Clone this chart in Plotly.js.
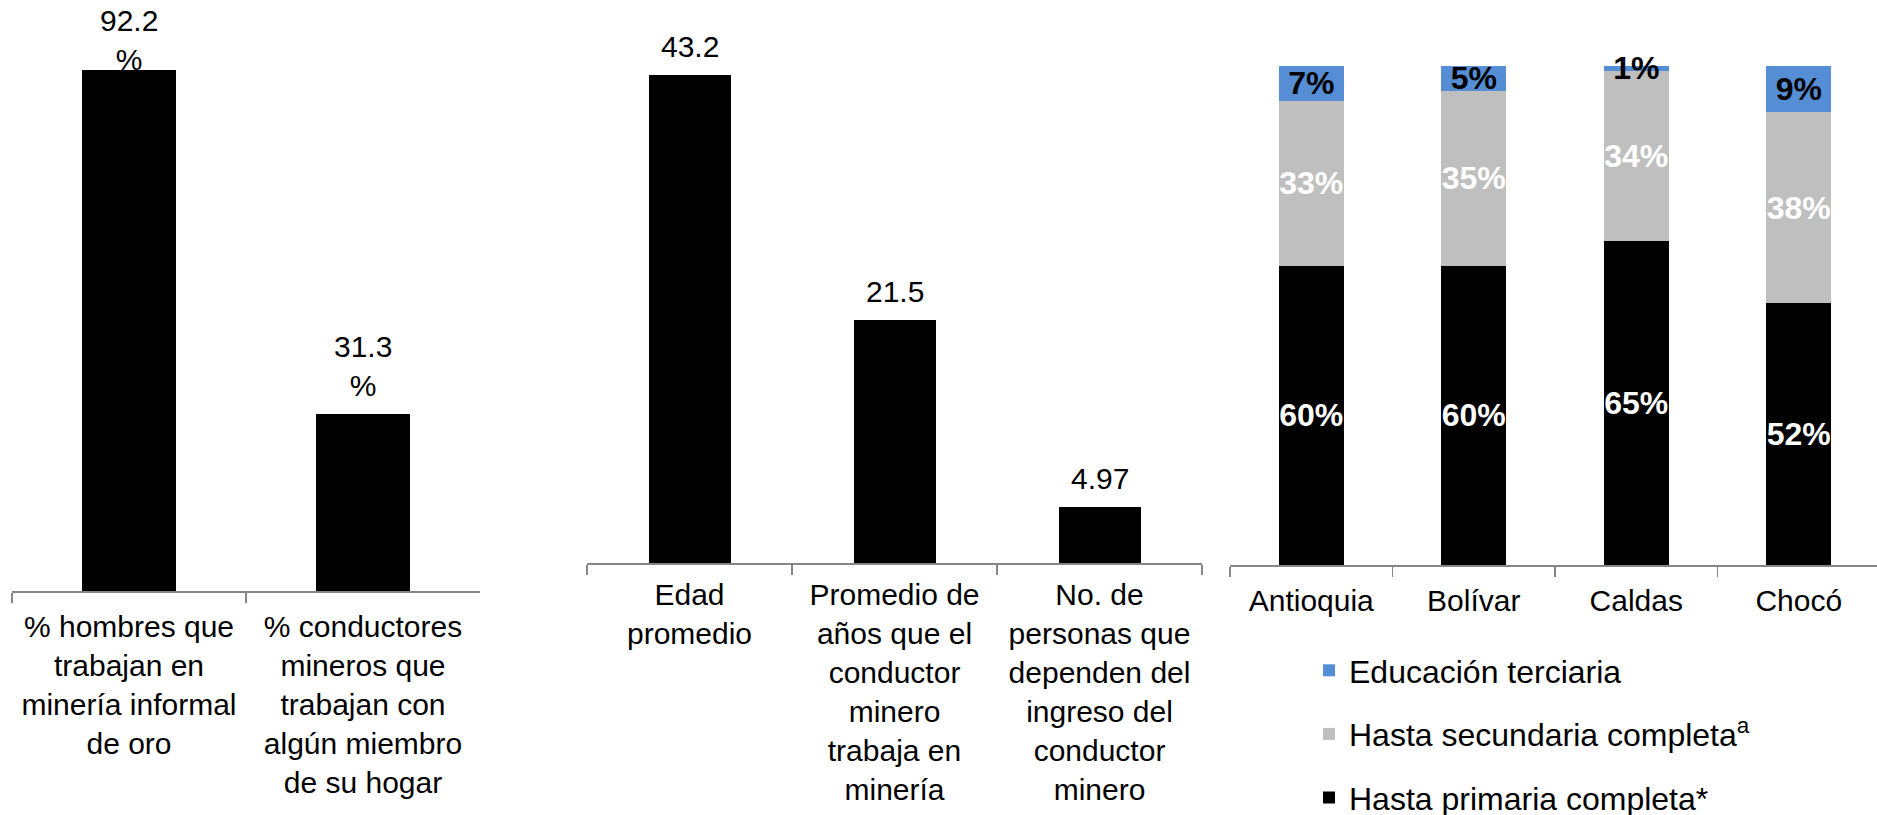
<!DOCTYPE html>
<html>
<head>
<meta charset="utf-8">
<script src="https://cdn.plot.ly/plotly-3.0.1.min.js"></script>
<style>html,body{margin:0;padding:0;background:#fff;}#chart{width:1877px;height:815px;}</style>
</head>
<body>
<div id="chart"></div>
<script>
// ---- data ----
var cats1 = ["% hombres que<br>trabajan en<br>minería informal<br>de oro", "% conductores<br>mineros que<br>trabajan con<br>algún miembro<br>de su hogar"];
var vals1 = [92.2, 31.3];

var cats2 = ["Edad<br>promedio", "Promedio de<br>años que el<br>conductor<br>minero<br>trabaja en<br>minería", "No. de<br>personas que<br>dependen del<br>ingreso del<br>conductor<br>minero"];
var vals2 = [43.2, 21.5, 4.97];

var regions = ["Antioquia", "Bolívar", "Caldas", "Chocó"];
var primaria = [60, 60, 65, 52.4];
var secundaria = [33, 35, 34, 38.4];
var terciaria = [7, 5, 1, 9.2];
var seriesNames = ["Hasta primaria completa*", "Hasta secundaria completa<sup>a</sup>", "Educación terciaria"];

// ---- style ----
var W = 1877, H = 815;
var FONT = "Liberation Sans, Arial, sans-serif";
var FS = 30;
var AXC = "#868686";
var BLUE = "#558ED5", GRAY = "#BFBFBF", BLACK = "#000000";

function px(x){ return x / W; }
function py(y){ return (H - y) / H; }

// axis geometry (pixels from the top of the figure)
var AX1 = 591, AX2 = 563, AX3 = 565;
var Y1MAX = 104.6, Y2MAX = 49.84, Y3MAX = 113.2;

var traces = [
  {type:"bar", x:cats1, y:vals1, xaxis:"x", yaxis:"y", marker:{color:BLACK},
   showlegend:false, hoverinfo:"skip"},
  {type:"bar", x:cats2, y:vals2, xaxis:"x2", yaxis:"y2", marker:{color:BLACK},
   showlegend:false, hoverinfo:"skip"},
  {type:"bar", x:regions, y:primaria, xaxis:"x3", yaxis:"y3", name:seriesNames[0], legendgroup:"g1", legendrank:3,
   marker:{color:BLACK}, texttemplate:"%{y:.0f}%", textposition:"inside", insidetextanchor:"middle",
   textangle:0, constraintext:"none", cliponaxis:false,
   insidetextfont:{family:FONT, size:32, color:"#fff", weight:"bold"}, hoverinfo:"skip"},
  {type:"bar", x:regions, y:secundaria, xaxis:"x3", yaxis:"y3", name:seriesNames[1], legendgroup:"g2", legendrank:2,
   marker:{color:GRAY}, texttemplate:"%{y:.0f}%", textposition:"inside", insidetextanchor:"middle",
   textangle:0, constraintext:"none", cliponaxis:false,
   insidetextfont:{family:FONT, size:32, color:"#fff", weight:"bold"}, hoverinfo:"skip"},
  {type:"bar", x:regions, y:terciaria, xaxis:"x3", yaxis:"y3", name:seriesNames[2], legendgroup:"g3", legendrank:1,
   marker:{color:BLUE}, texttemplate:"%{y:.0f}%", textposition:"inside", insidetextanchor:"middle",
   textangle:0, constraintext:"none", cliponaxis:false,
   insidetextfont:{family:FONT, size:32, color:"#000", weight:"bold"}, hoverinfo:"skip"}
];

// value labels, anchored to the bars through the axes; a label that would
// run past the top of its plot area is held inside it (as the original does)
var LINE = FS * 1.3, SHIFT = 10;
function valueLabels(cats, vals, xref, yref, axisPx, ymax, fmt){
  var pxPerUnit = axisPx / ymax;
  return cats.map(function(c, i){
    var txt = fmt(vals[i]);
    var nLines = txt.split("<br>").length;
    var needed = vals[i] * pxPerUnit + SHIFT + nLines * LINE + 2;
    var a = {xref:xref, yref:yref, x:c, text:txt, showarrow:false,
      font:{family:FONT, size:FS, color:"#000"}};
    if(needed > axisPx){ a.y = ymax; a.yanchor = "top"; a.yshift = -2; }
    else { a.y = vals[i]; a.yanchor = "bottom"; a.yshift = SHIFT; }
    return a;
  });
}
var annots = valueLabels(cats1, vals1, "x", "y", AX1, Y1MAX, function(v){ return v + "<br>%"; })
  .concat(valueLabels(cats2, vals2, "x2", "y2", AX2, Y2MAX, function(v){ return String(v); }));

function xax(d0, d1, anchor, range, standoff){
  return {domain:[d0, d1], anchor:anchor, type:"category", range:range,
    showline:true, linecolor:AXC, linewidth:1.5, ticks:"outside", tickson:"boundaries",
    ticklen:10, tickcolor:AXC, tickwidth:1.5, showgrid:false, zeroline:false, fixedrange:true,
    ticklabelstandoff:standoff,
    tickfont:{family:FONT, size:FS, color:"#000"}, automargin:false};
}
function yax(d0, d1, anchor, range){
  return {domain:[d0, d1], anchor:anchor, range:range, visible:false, fixedrange:true};
}

var layout = {
  width:W, height:H, margin:{l:0, r:0, t:0, b:0, autoexpand:false},
  paper_bgcolor:"#fff", plot_bgcolor:"rgba(0,0,0,0)",
  barmode:"stack", bargap:0.6,
  font:{family:FONT, size:FS, color:"#000"},
  xaxis: xax(px(12), px(480), "y", [-0.5, 1.5], 8),
  yaxis: yax(py(AX1), 1, "x", [0, Y1MAX]),
  xaxis2: xax(px(587), px(1202), "y2", [-0.5, 2.5], 4),
  yaxis2: yax(py(AX2), 1, "x2", [0, Y2MAX]),
  xaxis3: xax(px(1230), 1, "y3", [-0.5, -0.5 + (1877-1230)/162.5], 8),
  yaxis3: yax(py(AX3), 1, "x3", [0, Y3MAX]),
  annotations: annots,
  showlegend:true,
  legend:{x:px(1309), y:py(643), xanchor:"left", yanchor:"top", traceorder:"grouped",
    tracegroupgap:19, font:{family:FONT, size:32, color:"#000"}, bgcolor:"rgba(0,0,0,0)",
    itemwidth:30}
};

Plotly.newPlot("chart", traces, layout, {staticPlot:true, displayModeBar:false});
</script>
</body>
</html>
